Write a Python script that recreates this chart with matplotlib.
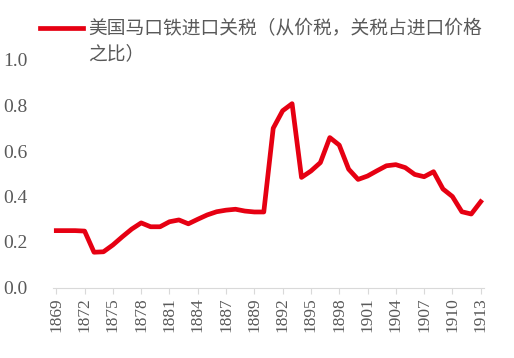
import matplotlib.pyplot as plt

plt.rcParams['font.family'] = ['Liberation Serif', 'DejaVu Serif']

# 年份（1888 出现两次，与原图类目轴一致）
years = list(range(1869, 1889)) + [1888] + list(range(1889, 1914))
tariff = [0.25, 0.25, 0.25, 0.248, 0.155, 0.157, 0.187, 0.223, 0.257, 0.284,
          0.267, 0.267, 0.289, 0.297, 0.280, 0.300, 0.319, 0.333, 0.340, 0.344,
          0.336, 0.332, 0.332, 0.700, 0.777, 0.808, 0.484, 0.512, 0.549, 0.659,
          0.626, 0.520, 0.475, 0.490, 0.513, 0.535, 0.540, 0.527, 0.497, 0.487,
          0.509, 0.433, 0.400, 0.333, 0.323, 0.377]
label = "美国马口铁进口关税（从价税，关税占进口价格"
label2 = "之比）"

grey = '#595959'
red = '#E60012'

fig = plt.figure(figsize=(5.14, 3.58), dpi=100)
ax = fig.add_axes([53/514, 1 - 287.5/358, (484 - 53)/514, (287.5 - 60)/358])

x = range(len(years))
ax.plot(x, tariff, color=red, linewidth=3.4, label=label, solid_joinstyle='round')

ax.set_xlim(-0.35, len(years) - 0.65)
ax.set_ylim(0, 1.0)
ticks = list(range(0, len(years), 3))
ax.set_xticks(ticks)
ax.set_xticklabels([str(years[i]) for i in ticks], rotation=90, fontsize=12.5, color=grey)
ax.set_yticks([0, 0.2, 0.4, 0.6, 0.8, 1.0])
ax.set_yticklabels(['0.0', '0.2', '0.4', '0.6', '0.8', '1.0'], fontsize=14, color=grey)
ax.tick_params(axis='y', length=0, pad=18)
ax.tick_params(axis='x', length=4, color='#D9D9D9', direction='out', pad=3)

for s in ['top', 'right', 'left']:
    ax.spines[s].set_visible(False)
ax.spines['bottom'].set_color('#D9D9D9')

leg = ax.legend(loc='center left', bbox_to_anchor=(40/514, 1 - 29/358),
                bbox_transform=fig.transFigure, frameon=False, handlelength=2.3,
                handletextpad=0.3, borderaxespad=0, borderpad=0,
                prop={'family': ['Noto Sans CJK SC'], 'size': 13.5})
for t in leg.get_texts():
    t.set_color(grey)
fig.text(88/514, 1 - 54/358, label2, family=['Noto Sans CJK SC'], fontsize=13.5,
         color=grey, va='center', ha='left')

fig.savefig('out.png', dpi=100)
